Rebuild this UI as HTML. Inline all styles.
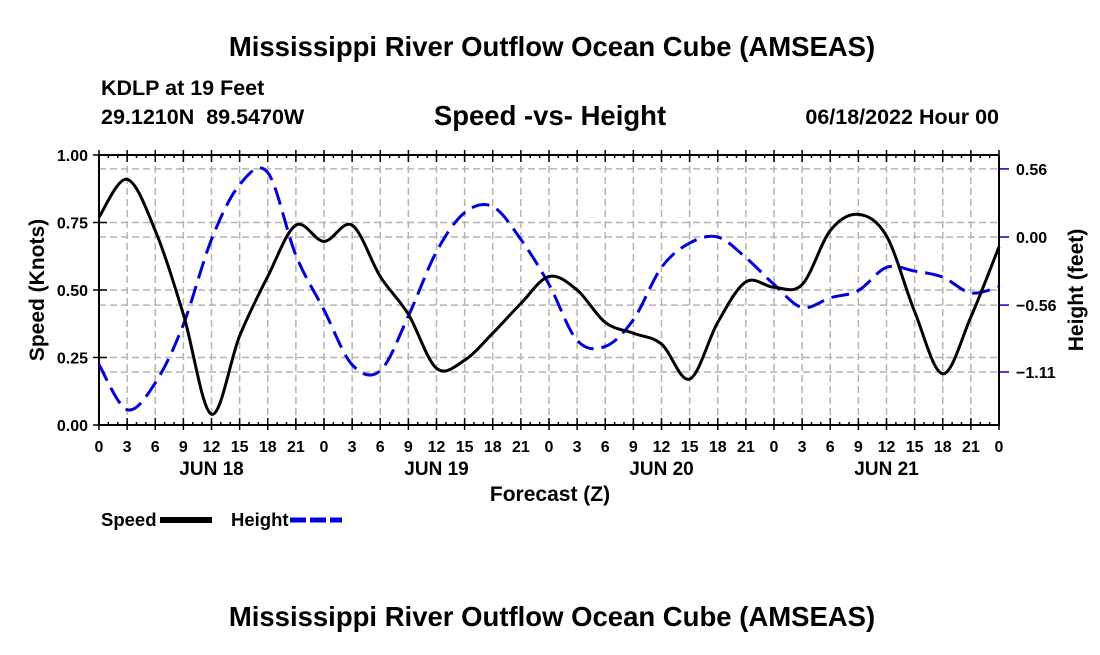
<!DOCTYPE html>
<html><head><meta charset="utf-8"><style>
body{margin:0;background:#fff;}
svg text{font-family:"Liberation Sans",Arial,sans-serif;font-weight:bold;fill:#000;}
</style></head><body>
<svg id="chart" width="1100" height="650" viewBox="0 0 1100 650" xmlns="http://www.w3.org/2000/svg">
<text x="552" y="56" font-size="27.5" text-anchor="middle">Mississippi River Outflow Ocean Cube (AMSEAS)</text>
<text x="101" y="95" font-size="21.5">KDLP at 19 Feet</text>
<text x="101" y="124" font-size="21.5" xml:space="preserve">29.1210N  89.5470W</text>
<text x="550" y="125" font-size="27.5" text-anchor="middle">Speed -vs- Height</text>
<text x="999" y="124" font-size="21.5" text-anchor="end">06/18/2022 Hour 00</text>
<g id="grid"></g>
<g id="axes"></g>
<g id="series"></g>
<text transform="translate(44,290) rotate(-90)" font-size="21" text-anchor="middle">Speed (Knots)</text>
<text transform="translate(1083,290) rotate(-90)" font-size="21" text-anchor="middle">Height (feet)</text>
<text x="550" y="501" font-size="21" text-anchor="middle">Forecast (Z)</text>
<g>
<text x="101" y="526" font-size="18.5">Speed</text>
<line x1="160" y1="520" x2="212" y2="520" stroke="#000" stroke-width="6"/>
<text x="231" y="526" font-size="18.5">Height</text>
<line x1="290" y1="520" x2="342" y2="520" stroke="#0000dd" stroke-width="5" stroke-dasharray="16 4"/>
</g>
<text x="552" y="626" font-size="27.5" text-anchor="middle">Mississippi River Outflow Ocean Cube (AMSEAS)</text>
</svg>
<script>
const hours=[0,3,6,9,12,15,18,21,24,27,30,33,36,39,42,45,48,51,54,57,60,63,66,69,72,75,78,81,84,87,90,93,96];
const speedValues=[0.77,0.91,0.72,0.41,0.04,0.33,0.55,0.74,0.68,0.74,0.55,0.41,0.21,0.24,0.34,0.45,0.55,0.50,0.38,0.34,0.30,0.17,0.38,0.53,0.51,0.52,0.72,0.78,0.70,0.42,0.19,0.40,0.66];
const heightValues=[-1.05,-1.42,-1.20,-0.72,-0.02,0.43,0.53,-0.15,-0.60,-1.05,-1.10,-0.65,-0.12,0.20,0.25,-0.02,-0.39,-0.85,-0.90,-0.68,-0.25,-0.05,0.00,-0.17,-0.39,-0.58,-0.50,-0.44,-0.25,-0.28,-0.33,-0.46,-0.41];
const xTickLabels=["0","3","6","9","12","15","18","21","0","3","6","9","12","15","18","21","0","3","6","9","12","15","18","21","0","3","6","9","12","15","18","21","0"];
const dayLabels=["JUN 18","JUN 19","JUN 20","JUN 21"];
const leftTicks=[0,0.25,0.5,0.75,1.0];
const leftTickLabels=["0.00","0.25","0.50","0.75","1.00"];
const rightTicks=[0.56,0,-0.56,-1.11];
const rightTickLabels=["0.56","0.00","\u22120.56","\u22121.11"];

const L=99,R=999,T=155,B=425;
const xs=h=>L+(h/96)*(R-L);
const ys=v=>B-v*(B-T);
const yh=v=>237-v*121.6;
const NS="http://www.w3.org/2000/svg";
function mk(tag,attrs,parent){const e=document.createElementNS(NS,tag);for(const k in attrs)e.setAttribute(k,attrs[k]);parent.appendChild(e);return e;}
const grid=document.getElementById('grid'),axes=document.getElementById('axes'),series=document.getElementById('series');
const gs={stroke:"#b4b4b4","stroke-width":1.5,"stroke-dasharray":"7 4"};
hours.forEach((h,i)=>{
  const g=mk('line',Object.assign({x1:xs(h),x2:xs(h),y1:T,y2:B},gs),grid);
  
  
  const t=mk('line',{x1:xs(h),x2:xs(h),y1:B+5,y2:B-7,stroke:"#000","stroke-width":1.5},axes);
  
  
  const tt=mk('line',{x1:xs(h),x2:xs(h),y1:T-5,y2:T+7,stroke:"#000","stroke-width":1.5},axes);
  
  
  const lb=mk('text',{x:xs(h),y:452,"font-size":16,"text-anchor":"middle"},axes);
  lb.textContent=xTickLabels[i];
  
  
});
for(let h=0;h<=96;h++){
  const m=mk('line',{x1:xs(h),x2:xs(h),y1:T,y2:T+3,stroke:"#000","stroke-width":1.5},axes);
  
  
  const mb=mk('line',{x1:xs(h),x2:xs(h),y1:B,y2:B-3,stroke:"#000","stroke-width":1.5},axes);
  
  
}
dayLabels.forEach((d,i)=>{
  const lb=mk('text',{x:xs(12+24*i),y:475,"font-size":19,"text-anchor":"middle"},axes);
  lb.textContent=d;
  
  
});
leftTicks.forEach((v,i)=>{
  if(v>0&&v<1){const g=mk('line',Object.assign({x1:L,x2:R,y1:ys(v),y2:ys(v)},gs),grid);
  
  }
  const t=mk('line',{x1:L-6,x2:L+8,y1:ys(v),y2:ys(v),stroke:"#000","stroke-width":1.5},axes);
  
  
  const lb=mk('text',{x:88,y:ys(v)+6,"font-size":16,"text-anchor":"end"},axes);
  lb.textContent=leftTickLabels[i];
  
  
});
rightTicks.forEach((v,i)=>{
  const g=mk('line',Object.assign({x1:L,x2:R,y1:yh(v),y2:yh(v)},gs),grid);
  
  
  const t=mk('line',{x1:R,x2:R+10,y1:yh(v),y2:yh(v),stroke:"#0000cc","stroke-width":1.5},axes);
  
  
  const lb=mk('text',{x:1016,y:yh(v)+6,"font-size":16},axes);
  lb.textContent=rightTickLabels[i];
  
  
});
const frame=mk('path',{d:`M${L},${T}L${L},${B}L${R},${B}L${R},${T}M${L},${T}L${R},${T}`,fill:"none",stroke:"#000","stroke-width":2},axes);


function smooth(pts){let d=`M${pts[0][0]},${pts[0][1]}`;
  for(let i=0;i<pts.length-1;i++){const p0=pts[Math.max(0,i-1)],p1=pts[i],p2=pts[i+1],p3=pts[Math.min(pts.length-1,i+2)];
    d+=`C${p1[0]+(p2[0]-p0[0])/6},${p1[1]+(p2[1]-p0[1])/6} ${p2[0]-(p3[0]-p1[0])/6},${p2[1]-(p3[1]-p1[1])/6} ${p2[0]},${p2[1]}`;}
  return d;}
const hp=mk('path',{d:smooth(hours.map((h,i)=>[xs(h),yh(heightValues[i])])),fill:"none",stroke:"#0000dd","stroke-width":3,"stroke-dasharray":"18 8"},series);


const sp=mk('path',{d:smooth(hours.map((h,i)=>[xs(h),ys(speedValues[i])])),fill:"none",stroke:"#000","stroke-width":3},series);


</script>
</body></html>
